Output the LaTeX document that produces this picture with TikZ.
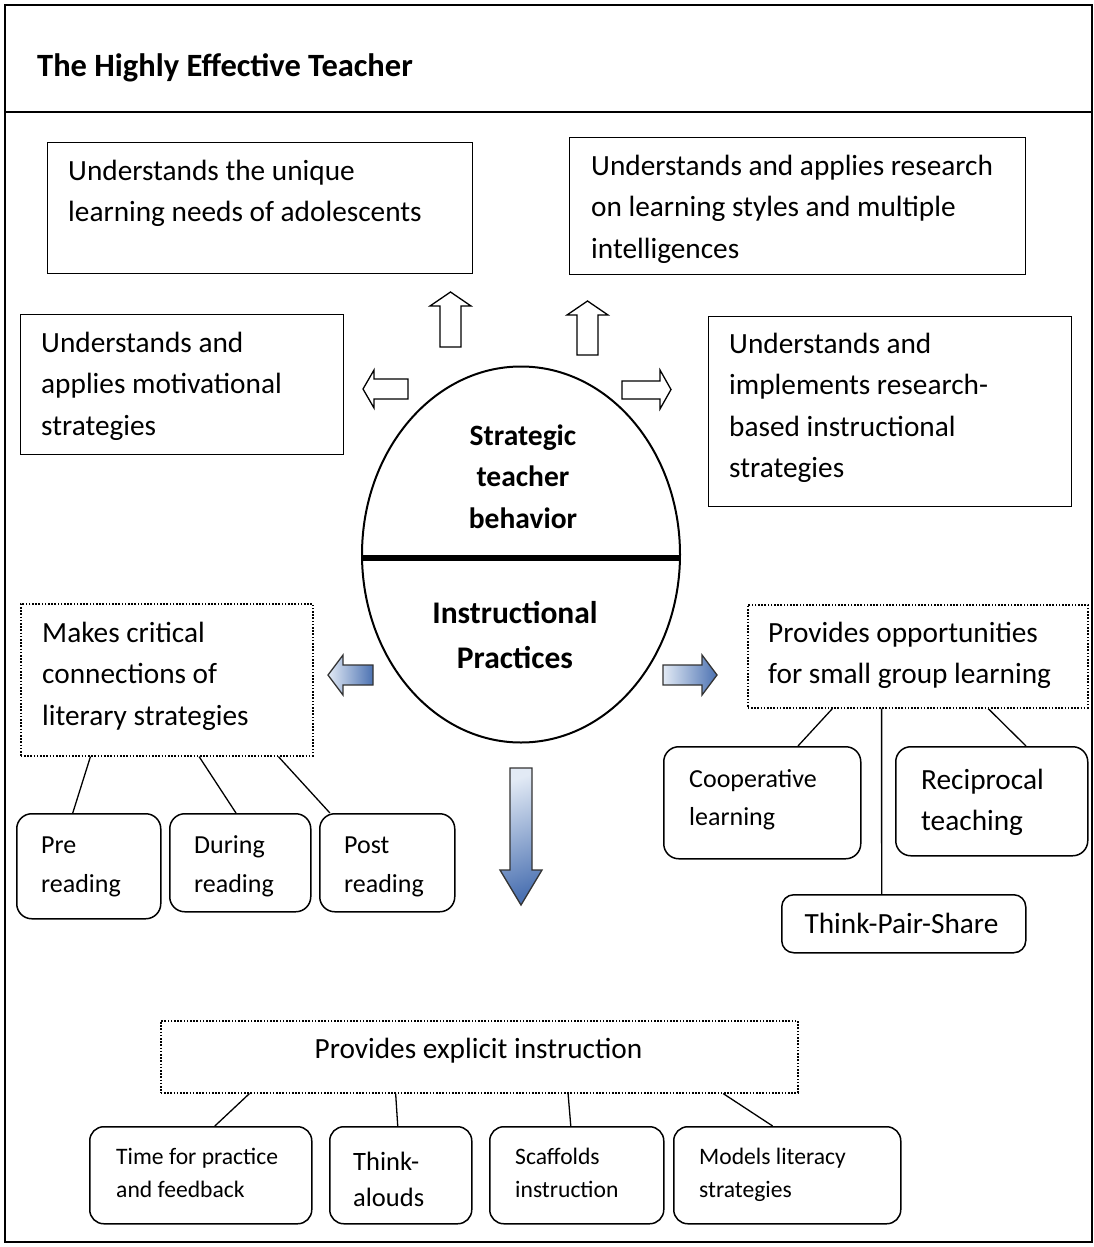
\documentclass[tikz,border=0pt]{standalone}
\usepackage{fontspec}
\setmainfont{Carlito}
\usetikzlibrary{calc,shapes.geometric}
\newcommand{\mlines}[1]{\begin{tabular}[t]{@{}l@{}}#1\end{tabular}}
\newcommand{\clines}[1]{\begin{tabular}[t]{@{}c@{}}#1\end{tabular}}
\newcommand{\fsz}[2]{\fontsize{#1}{#2}\selectfont}
\definecolor{blueL}{RGB}{226,234,245}
\definecolor{blueD}{RGB}{76,114,178}
\tikzset{
  frameline/.style={draw, line width=2pt},
  sbox/.style={draw, line width=1.4pt, rectangle, inner sep=0pt, anchor=north west},
  dbox/.style={draw, line width=1.6pt, dash pattern=on 1.6pt off 1.6pt, rectangle, inner sep=0pt, anchor=north west},
  rbox/.style={draw, line width=1.5pt, rounded corners=15pt, rectangle, inner sep=0pt, anchor=north west},
  txt/.style={inner sep=0pt, anchor=base west, font=\fsz{29.3}{41.5}},
  ctxt/.style={inner sep=0pt, anchor=base},
  link/.style={draw, line width=1.3pt},
  warrow/.style={draw, line width=1.3pt, fill=white, line join=miter},
  barrow/.style={draw=black!80, line width=1.3pt, line join=miter, left color=blueL, right color=blueD},
}
\begin{document}
\begin{tikzpicture}[x=1pt,y=-1pt]
\useasboundingbox (0,0) rectangle (1094,1247);
% frame
\draw[frameline] (5,5) rectangle (1092,1242);
\draw[frameline] (5,112) -- (1092,112);
\node[inner sep=0pt, anchor=base west, font=\fsz{32.5}{38}\bfseries] (title) at (37,77) {The Highly Effective Teacher};

% top boxes
\node[sbox, minimum width=425, minimum height=131] (A) at (47,142) {};
\node[txt] (tA) at (68,180) {\mlines{Understands the unique\\learning needs of adolescents}};
\node[sbox, minimum width=456, minimum height=137] (B) at (569,137) {};
\node[txt] (tB) at (591,175) {\mlines{Understands and applies research\\on learning styles and multiple\\intelligences}};
\node[sbox, minimum width=323, minimum height=140] (C) at (20,314) {};
\node[txt] (tC) at (41,352) {\mlines{Understands and\\applies motivational\\strategies}};
\node[sbox, minimum width=363, minimum height=190] (D) at (708,316) {};
\node[txt] (tD) at (729,353) {\mlines{Understands and\\implements research-\\based instructional\\strategies}};

% ellipse
\node[draw, ellipse, line width=2pt, inner sep=0pt, minimum width=318, minimum height=376] (ell) at (521,554.5) {};
\draw[line width=6pt] ([yshift=-3.5pt]ell.west) -- ([yshift=-3.5pt]ell.east);
\node[ctxt, font=\fsz{29.5}{41.5}\bfseries] (tS) at (523,445) {\clines{Strategic\\teacher\\behavior}};
\node[ctxt, font=\fsz{31.5}{45}\bfseries] (tI) at (515,623) {\clines{Instructional\\Practices}};

% white arrows
\draw[warrow] (440,347) -- (440,306) -- (430,306) -- (450.5,292) -- (471,306) -- (461,306) -- (461,347) -- cycle;
\draw[warrow] (577,355) -- (577,315) -- (567,315) -- (587.5,301) -- (608,315) -- (598,315) -- (598,355) -- cycle;
\draw[warrow] (408,379) -- (374,379) -- (374,370) -- (363,389) -- (374,408) -- (374,399) -- (408,399) -- cycle;
\draw[warrow] (622,381) -- (660,381) -- (660,370) -- (671,389.5) -- (660,409) -- (660,399) -- (622,399) -- cycle;

% blue arrows
\draw[barrow] (373,665) -- (343,665) -- (343,655) -- (328,675) -- (343,695) -- (343,685) -- (373,685) -- cycle;
\draw[barrow] (663,665) -- (702,665) -- (702,655) -- (717,675) -- (702,695) -- (702,685) -- (663,685) -- cycle;
\draw[draw=black!80, line width=1.3pt, line join=miter, shading=axis, top color=blueL, bottom color=blueD, shading angle=20]
  (510,768) -- (532,768) -- (532,870) -- (542,870) -- (521,905) -- (500,870) -- (510,870) -- cycle;

% left group
\node[dbox, minimum width=292, minimum height=152] (E) at (20,603) {};
\node[txt] (tE) at (42,642) {\mlines{Makes critical\\connections of\\literary strategies}};
\node[rbox, minimum width=144, minimum height=105] (pre) at (16,813) {};
\node[rbox, minimum width=141, minimum height=98] (during) at (169,813) {};
\node[rbox, minimum width=135, minimum height=98] (post) at (319,813) {};
\node[txt, font=\fsz{26}{39}] (tpre) at (41,853) {\mlines{Pre\\reading}};
\node[txt, font=\fsz{26}{39}] (tduring) at (194,853) {\mlines{During\\reading}};
\node[txt, font=\fsz{26}{39}] (tpost) at (344,853) {\mlines{Post\\reading}};
\draw[link] ($(E.south west)!0.24!(E.south east)$) -- ($(pre.north west)!0.39!(pre.north east)$);
\draw[link] ($(E.south west)!0.61!(E.south east)$) -- ($(during.north west)!0.47!(during.north east)$);
\draw[link] ($(E.south west)!0.88!(E.south east)$) -- ($(post.north west)!0.08!(post.north east)$);

% right group
\node[dbox, minimum width=340, minimum height=103] (F) at (747,604) {};
\node[txt] (tF) at (768,642) {\mlines{Provides opportunities\\for small group learning}};
\node[rbox, minimum width=197, minimum height=112] (coop) at (663,746) {};
\node[txt, font=\fsz{26}{38}] (tcoop) at (689,787) {\mlines{Cooperative\\learning}};
\node[rbox, minimum width=192, minimum height=109] (recip) at (895,746) {};
\node[txt] (trecip) at (921,789) {\mlines{Reciprocal\\teaching}};
\node[rbox, rounded corners=12pt, minimum width=244, minimum height=58] (tps) at (781,894) {};
\node[ctxt, font=\fsz{29.3}{41.5}] (ttps) at (901.5,933) {Think-Pair-Share};
\draw[link] ($(F.south west)!0.25!(F.south east)$) -- ($(coop.north west)!0.68!(coop.north east)$);
\draw[link] ($(F.south west)!0.394!(F.south east)$) -- ($(tps.north west)!0.41!(tps.north east)$);
\draw[link] ($(F.south west)!0.706!(F.south east)$) -- ($(recip.north west)!0.677!(recip.north east)$);

% bottom group
\node[dbox, minimum width=637, minimum height=72] (G) at (160,1020) {};
\node[ctxt, font=\fsz{29.3}{41.5}] (tG) at (478.5,1058) {Provides explicit instruction};
\node[rbox, rounded corners=14pt, minimum width=222, minimum height=97] (time) at (89,1126) {};
\node[rbox, rounded corners=14pt, minimum width=142, minimum height=97] (think) at (329,1126) {};
\node[rbox, rounded corners=14pt, minimum width=174, minimum height=97] (scaff) at (489,1126) {};
\node[rbox, rounded corners=14pt, minimum width=227, minimum height=97] (models) at (673,1126) {};
\node[txt, font=\fsz{23.6}{33}] (ttime) at (116,1164) {\mlines{Time for practice\\and feedback}};
\node[txt, font=\fsz{26.5}{36}] (tthink) at (353,1170) {\mlines{Think-\\alouds}};
\node[txt, font=\fsz{23.6}{33}] (tscaff) at (515,1164) {\mlines{Scaffolds\\instruction}};
\node[txt, font=\fsz{23.6}{33}] (tmodels) at (699,1164) {\mlines{Models literacy\\strategies}};
\draw[link] ($(G.south west)!0.14!(G.south east)$) -- ($(time.north west)!0.563!(time.north east)$);
\draw[link] ($(G.south west)!0.369!(G.south east)$) -- ($(think.north west)!0.479!(think.north east)$);
\draw[link] ($(G.south west)!0.639!(G.south east)$) -- ($(scaff.north west)!0.466!(scaff.north east)$);
\draw[link] ($(G.south west)!0.882!(G.south east)$) -- ($(models.north west)!0.436!(models.north east)$);
\end{tikzpicture}
\end{document}
